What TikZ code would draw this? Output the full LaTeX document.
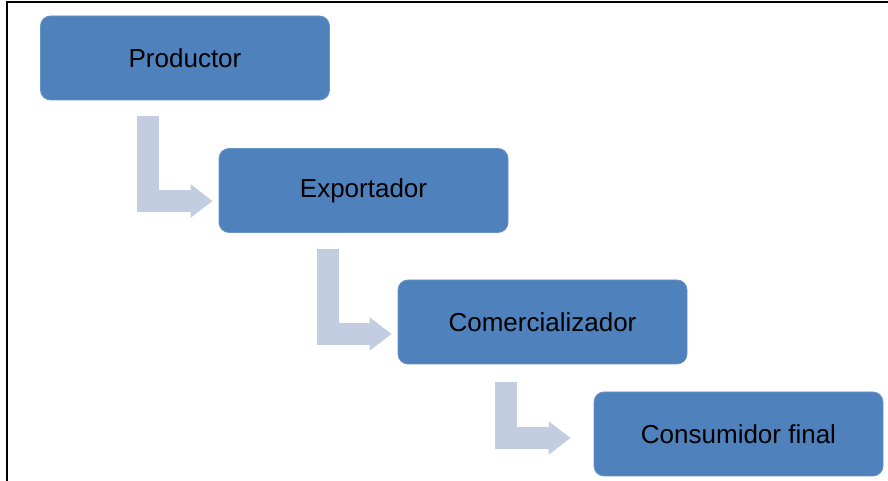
\documentclass[tikz,border=0pt]{standalone}
\usepackage{fontspec}
\setmainfont{Liberation Sans}
\usetikzlibrary{arrows.meta,calc}
\definecolor{boxblue}{RGB}{79,129,189}
\definecolor{flowblue}{RGB}{194,205,225}
\tikzset{
  stage/.style={fill=boxblue, draw=boxblue!85!white, line width=0.8pt, rounded corners=10pt,
    minimum width=289pt, minimum height=84pt, inner sep=0pt,
    font=\fontsize{26}{30}\selectfont, text=black},
  flow/.style={draw=flowblue, line width=22pt, line join=miter, line cap=butt,
    -{Triangle[length=22pt,width=32pt]}}
}
\begin{document}
\begin{tikzpicture}[x=1pt,y=1pt]
\useasboundingbox (0,0) rectangle (888,481);
\draw[line width=2pt] (7,0) -- (7,479.2) -- (888,479.2);
\node[stage] (p) at (185,423) {Productor};
\node[stage] (e) at (363.5,290.5) {Exportador};
\node[stage] (c) at (542.5,159) {Comercializador};
\node[stage] (f) at (738.5,47) {Consumidor final};
\draw[flow] ($(p.south west)+(108,-16)$) |- ($(e.west)+(-6,-10.5)$);
\draw[flow] ($(e.south west)+(109,-16)$) |- ($(c.west)+(-6,-12)$);
\draw[flow] ($(c.south west)+(108,-18)$) |- ($(f.west)+(-23,-4)$);
\end{tikzpicture}
\end{document}
